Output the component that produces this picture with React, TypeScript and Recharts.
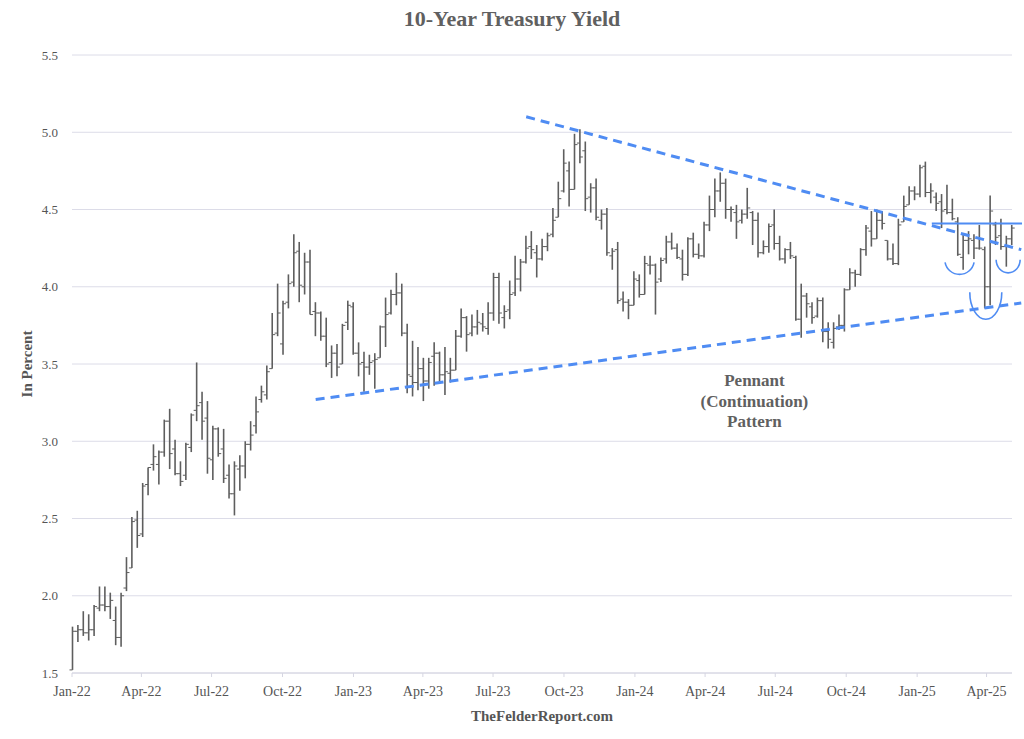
import {
  ComposedChart,
  Bar,
  XAxis,
  YAxis,
  CartesianGrid,
  ReferenceLine,
  ReferenceDot,
} from "recharts";

type Ohlc = [number, number, number, number]; // open, high, low, close

// weekly bars, each list starts on the Sunday given
const start2022 = "2022-01-02";
const weeks2022: Ohlc[] = [
  [1.52, 1.8, 1.52, 1.77], [1.77, 1.81, 1.7, 1.78], [1.78, 1.9, 1.74, 1.76], [1.76, 1.88, 1.71, 1.78],
  [1.78, 1.94, 1.74, 1.93], [1.92, 2.06, 1.9, 1.94], [1.94, 2.06, 1.9, 1.93], [1.93, 2.02, 1.85, 1.97],
  [1.84, 1.93, 1.68, 1.73], [1.73, 2.02, 1.67, 2.0], [2.05, 2.25, 2.03, 2.15], [2.18, 2.51, 2.18, 2.48],
  [2.49, 2.55, 2.31, 2.39], [2.4, 2.73, 2.38, 2.71], [2.72, 2.83, 2.65, 2.83], [2.85, 2.98, 2.81, 2.9],
  [2.85, 2.94, 2.72, 2.93], [2.93, 3.14, 2.9, 3.13], [3.13, 3.21, 2.82, 2.92], [2.95, 3.01, 2.78, 2.79],
  [2.79, 2.87, 2.71, 2.74], [2.78, 2.99, 2.75, 2.98], [2.96, 3.18, 2.93, 3.17], [3.2, 3.51, 3.13, 3.23],
  [3.25, 3.32, 3.01, 3.13], [3.15, 3.26, 2.79, 2.89], [2.88, 3.1, 2.75, 3.08], [3.08, 3.09, 2.9, 2.92],
  [2.95, 3.08, 2.73, 2.76], [2.78, 2.85, 2.63, 2.66], [2.66, 2.87, 2.52, 2.84], [2.82, 2.91, 2.68, 2.84],
  [2.84, 3.0, 2.76, 2.98], [2.98, 3.13, 2.94, 3.04], [3.1, 3.29, 3.05, 3.19], [3.27, 3.36, 3.25, 3.32],
  [3.3, 3.49, 3.27, 3.45], [3.47, 3.83, 3.47, 3.69], [3.7, 4.02, 3.68, 3.83], [3.63, 3.91, 3.56, 3.89],
  [3.9, 4.08, 3.86, 4.02], [4.03, 4.34, 4.0, 4.22], [4.23, 4.29, 3.9, 4.01], [4.0, 4.22, 3.95, 4.16],
  [4.16, 4.24, 3.82, 3.82], [3.84, 3.9, 3.68, 3.83], [3.83, 3.84, 3.65, 3.68], [3.68, 3.8, 3.48, 3.5],
  [3.51, 3.62, 3.41, 3.57], [3.57, 3.63, 3.42, 3.48], [3.5, 3.76, 3.5, 3.75], [3.77, 3.91, 3.72, 3.88],
];

const start2023 = "2023-01-01";
const weeks2023: Ohlc[] = [
  [3.87, 3.9, 3.56, 3.57], [3.57, 3.64, 3.42, 3.5], [3.51, 3.58, 3.32, 3.48], [3.48, 3.56, 3.43, 3.51],
  [3.52, 3.57, 3.34, 3.53], [3.54, 3.75, 3.54, 3.74], [3.74, 3.93, 3.61, 3.82], [3.83, 3.98, 3.82, 3.95],
  [3.95, 4.09, 3.88, 3.96], [3.96, 4.02, 3.68, 3.7], [3.7, 3.76, 3.31, 3.43], [3.42, 3.65, 3.29, 3.38],
  [3.38, 3.61, 3.33, 3.47], [3.47, 3.54, 3.26, 3.39], [3.39, 3.54, 3.34, 3.51], [3.55, 3.64, 3.36, 3.57],
  [3.57, 3.58, 3.38, 3.43], [3.43, 3.61, 3.3, 3.45], [3.44, 3.54, 3.38, 3.46], [3.46, 3.72, 3.46, 3.68],
  [3.68, 3.86, 3.67, 3.8], [3.8, 3.81, 3.58, 3.69], [3.7, 3.82, 3.68, 3.74], [3.74, 3.85, 3.69, 3.77],
  [3.76, 3.83, 3.71, 3.74], [3.73, 3.9, 3.69, 3.83], [3.83, 4.09, 3.78, 4.06], [4.06, 4.09, 3.76, 3.83],
  [3.8, 3.88, 3.73, 3.84], [3.85, 4.04, 3.79, 3.95], [3.96, 4.2, 3.94, 4.05], [4.05, 4.18, 3.97, 4.16],
  [4.16, 4.33, 4.15, 4.25], [4.26, 4.36, 4.18, 4.24], [4.22, 4.27, 4.06, 4.18], [4.18, 4.31, 4.17, 4.26],
  [4.26, 4.35, 4.23, 4.33], [4.34, 4.51, 4.32, 4.43], [4.45, 4.68, 4.45, 4.57], [4.62, 4.89, 4.61, 4.8],
  [4.75, 4.81, 4.52, 4.63], [4.63, 4.99, 4.63, 4.92], [4.93, 5.02, 4.8, 4.84], [4.88, 4.94, 4.49, 4.57],
  [4.58, 4.67, 4.48, 4.64], [4.64, 4.7, 4.43, 4.45], [4.43, 4.5, 4.37, 4.47], [4.47, 4.51, 4.2, 4.22],
  [4.2, 4.25, 4.11, 4.23], [4.24, 4.29, 3.89, 3.91], [3.92, 3.97, 3.84, 3.9], [3.9, 3.92, 3.79, 3.88],
];

const start2024 = "2023-12-31";
const weeks2024: Ohlc[] = [
  [3.88, 4.1, 3.88, 4.05], [4.04, 4.08, 3.93, 3.95], [3.95, 4.2, 3.95, 4.15], [4.14, 4.2, 4.08, 4.14],
  [4.14, 4.15, 3.82, 4.03], [4.05, 4.19, 4.03, 4.17], [4.18, 4.33, 4.15, 4.29], [4.29, 4.35, 4.24, 4.25],
  [4.25, 4.28, 4.18, 4.19], [4.18, 4.24, 4.04, 4.08], [4.08, 4.32, 4.07, 4.31], [4.31, 4.35, 4.19, 4.21],
  [4.21, 4.28, 4.18, 4.2], [4.2, 4.42, 4.19, 4.4], [4.4, 4.59, 4.36, 4.5], [4.5, 4.7, 4.45, 4.62],
  [4.62, 4.74, 4.55, 4.67], [4.67, 4.7, 4.44, 4.5], [4.5, 4.52, 4.42, 4.5], [4.48, 4.53, 4.31, 4.42],
  [4.43, 4.5, 4.41, 4.47], [4.47, 4.64, 4.44, 4.51], [4.48, 4.49, 4.27, 4.43], [4.43, 4.48, 4.19, 4.22],
  [4.22, 4.3, 4.21, 4.26], [4.26, 4.41, 4.22, 4.39], [4.4, 4.5, 4.24, 4.28], [4.28, 4.33, 4.17, 4.18],
  [4.18, 4.25, 4.15, 4.24], [4.24, 4.29, 4.18, 4.2], [4.19, 4.2, 3.78, 3.79], [3.79, 4.02, 3.67, 3.94],
  [3.94, 3.96, 3.8, 3.89], [3.87, 3.9, 3.76, 3.8], [3.81, 3.93, 3.8, 3.91], [3.91, 3.93, 3.64, 3.71],
  [3.71, 3.77, 3.6, 3.66], [3.64, 3.77, 3.6, 3.73], [3.74, 3.82, 3.72, 3.75], [3.75, 3.99, 3.71, 3.98],
  [3.98, 4.12, 3.98, 4.09], [4.09, 4.11, 4.0, 4.08], [4.08, 4.25, 4.07, 4.24], [4.24, 4.4, 4.2, 4.38],
  [4.36, 4.49, 4.26, 4.31], [4.31, 4.5, 4.31, 4.43], [4.43, 4.49, 4.37, 4.41], [4.3, 4.3, 4.17, 4.18],
  [4.18, 4.28, 4.14, 4.15], [4.15, 4.44, 4.14, 4.4], [4.42, 4.59, 4.42, 4.52], [4.53, 4.65, 4.53, 4.62],
];

const start2025 = "2024-12-29";
const weeks2025: Ohlc[] = [
  [4.62, 4.65, 4.56, 4.6], [4.6, 4.79, 4.58, 4.77], [4.78, 4.81, 4.58, 4.61], [4.61, 4.67, 4.54, 4.62],
  [4.58, 4.61, 4.49, 4.54], [4.55, 4.6, 4.38, 4.49], [4.5, 4.66, 4.47, 4.48], [4.48, 4.57, 4.43, 4.44],
  [4.42, 4.45, 4.2, 4.21], [4.19, 4.34, 4.11, 4.3], [4.3, 4.36, 4.21, 4.31], [4.3, 4.34, 4.18, 4.25],
  [4.25, 4.4, 4.24, 4.25], [4.24, 4.26, 3.86, 4.0], [4.0, 4.59, 3.88, 4.49], [4.4, 4.42, 4.27, 4.32],
  [4.33, 4.44, 4.24, 4.26], [4.26, 4.33, 4.13, 4.31], [4.31, 4.4, 4.27, 4.38],
];

const yTicks = [1.5, 2.0, 2.5, 3.0, 3.5, 4.0, 4.5, 5.0, 5.5];
const quarterTicks = [
  "2022-01-01", "2022-04-01", "2022-07-01", "2022-10-01",
  "2023-01-01", "2023-04-01", "2023-07-01", "2023-10-01",
  "2024-01-01", "2024-04-01", "2024-07-01", "2024-10-01",
  "2025-01-01", "2025-04-01",
];
const monthNames = ["Jan", "Feb", "Mar", "Apr", "May", "Jun", "Jul", "Aug", "Sep", "Oct", "Nov", "Dec"];
const axisStart = "2022-01-01";
const axisEnd = "2025-05-04";

// drawn annotations
const upperTrend = [{ date: "2023-08-13", value: 5.1 }, { date: "2025-05-16", value: 4.24 }];
const lowerTrend = [{ date: "2022-11-13", value: 3.27 }, { date: "2025-05-16", value: 3.895 }];
const resistance = [{ date: "2025-01-20", value: 4.41 }, { date: "2025-05-17", value: 4.41 }];
const dips = [
  { date: "2025-02-25", value: 4.08 },
  { date: "2025-03-31", value: 3.79 },
  { date: "2025-04-29", value: 4.09 },
];
const dipSizes = [
  { w: 29, d: 12 },
  { w: 32, d: 27 },
  { w: 24, d: 13 },
];
const pennantAt = { date: "2024-06-04", value: 3.26 };
const pennantLines = ["Pennant", "(Continuation)", "Pattern"];

const DAY = 86400000;
const ts = (d: string) => Date.parse(d + "T00:00:00Z");

const toRows = (start: string, weeks: Ohlc[]) =>
  weeks.map(([open, high, low, close], i) => ({
    t: ts(start) + i * 7 * DAY,
    open,
    high,
    low,
    close,
    range: [low, high],
  }));

const data = [
  ...toRows(start2022, weeks2022),
  ...toRows(start2023, weeks2023),
  ...toRows(start2024, weeks2024),
  ...toRows(start2025, weeks2025),
];

const FONT = '"Liberation Serif", "DejaVu Serif", serif';
const TEXT = "#555";
const BLUE = "#4f8cf3";

const fmtQuarter = (t: number) => {
  const d = new Date(t);
  return `${monthNames[d.getUTCMonth()]}-${String(d.getUTCFullYear()).slice(2)}`;
};

const OhlcShape = (props: any) => {
  const { x, y, width, height, payload } = props;
  if (x == null || y == null || !payload) return null;
  const top = Math.min(y, y + height);
  const bottom = Math.max(y, y + height);
  const cx = x + width / 2;
  const span = payload.high - payload.low || 1;
  const yOf = (v: number) => top + ((payload.high - v) / span) * (bottom - top);
  return (
    <g stroke="#5e5e5e">
      <line x1={cx} x2={cx} y1={top} y2={bottom} strokeWidth={1.6} />
      <line x1={cx - 3} x2={cx} y1={yOf(payload.open)} y2={yOf(payload.open)} strokeWidth={1} />
      <line x1={cx} x2={cx + 3} y1={yOf(payload.close)} y2={yOf(payload.close)} strokeWidth={1} />
    </g>
  );
};

const dipShape = (i: number) => (p: any) => {
  const { w, d } = dipSizes[i];
  const { cx, cy } = p;
  let rx = w / 2;
  let ry = d;
  if (d < w / 2) {
    rx = ry = (w * w / 4 + d * d) / (2 * d);
  }
  return (
    <path
      d={`M ${cx - w / 2} ${cy - d} A ${rx} ${ry} 0 0 0 ${cx + w / 2} ${cy - d}`}
      fill="none"
      stroke={BLUE}
      strokeWidth={1.6}
    />
  );
};

const pennantShape = (p: any) => (
  <text
    x={p.cx}
    y={p.cy}
    textAnchor="middle"
    fill="#606060"
    fontFamily={FONT}
    fontWeight="bold"
    fontSize={17}
  >
    {pennantLines.map((l, i) => (
      <tspan key={l} x={p.cx} dy={i === 0 ? -15 : 20.5}>
        {l}
      </tspan>
    ))}
  </text>
);

export default function App() {
  return (
    <div
      style={{
        position: "absolute",
        left: 0,
        top: 0,
        width: 1024,
        height: 739,
        background: "#fff",
        fontFamily: FONT,
        color: TEXT,
      }}
    >
      <div
        style={{
          position: "absolute",
          top: 6,
          left: 0,
          width: 1024,
          textAlign: "center",
          fontSize: 22,
          fontWeight: "bold",
          color: "#606060",
        }}
      >
        10-Year Treasury Yield
      </div>
      <div
        style={{
          position: "absolute",
          left: 27,
          top: 364,
          transform: "translate(-50%, -50%) rotate(-90deg)",
          whiteSpace: "nowrap",
          fontSize: 15,
          fontWeight: "bold",
        }}
      >
        In Percent
      </div>
      <div
        style={{
          position: "absolute",
          left: 542,
          top: 716,
          transform: "translate(-50%, -50%)",
          whiteSpace: "nowrap",
          fontSize: 15,
          fontWeight: "bold",
        }}
      >
        TheFelderReport.com
      </div>
      <ComposedChart
        width={1024}
        height={739}
        data={data}
        margin={{ top: 55, right: 12, bottom: 36, left: 12 }}
        style={{ position: "absolute", left: 0, top: 0 }}
      >
        <CartesianGrid vertical={false} stroke="#dcdce8" />
        <XAxis
          dataKey="t"
          type="number"
          domain={[ts(axisStart), ts(axisEnd)]}
          ticks={quarterTicks.map(ts)}
          tickFormatter={fmtQuarter}
          height={30}
          tickSize={4}
          tickMargin={9}
          axisLine={{ stroke: "#d6d6e2" }}
          tickLine={{ stroke: "#d6d6e2" }}
          tick={{ fill: TEXT, fontSize: 14, fontFamily: FONT }}
          interval={0}
        />
        <YAxis
          type="number"
          domain={[1.5, 5.5]}
          ticks={yTicks}
          tickFormatter={(v: number) => v.toFixed(1)}
          width={60}
          axisLine={false}
          tickLine={false}
          tickSize={0}
          tickMargin={14}
          tick={{ fill: TEXT, fontSize: 13, fontFamily: FONT }}
        />
        <Bar dataKey="range" barSize={6} shape={OhlcShape} isAnimationActive={false} />
        <ReferenceLine
          segment={upperTrend.map((p) => ({ x: ts(p.date), y: p.value }))}
          stroke={BLUE}
          strokeWidth={3}
          strokeDasharray="9 6"
          ifOverflow="visible"
        />
        <ReferenceLine
          segment={lowerTrend.map((p) => ({ x: ts(p.date), y: p.value }))}
          stroke={BLUE}
          strokeWidth={3}
          strokeDasharray="9 6"
          ifOverflow="visible"
        />
        <ReferenceLine
          segment={resistance.map((p) => ({ x: ts(p.date), y: p.value }))}
          stroke={BLUE}
          strokeWidth={2}
          ifOverflow="visible"
        />
        {dips.map((p, i) => (
          <ReferenceDot
            key={p.date}
            x={ts(p.date)}
            y={p.value}
            r={0}
            ifOverflow="visible"
            shape={dipShape(i)}
          />
        ))}
        <ReferenceDot
          x={ts(pennantAt.date)}
          y={pennantAt.value}
          r={0}
          ifOverflow="visible"
          shape={pennantShape}
        />
      </ComposedChart>
    </div>
  );
}
